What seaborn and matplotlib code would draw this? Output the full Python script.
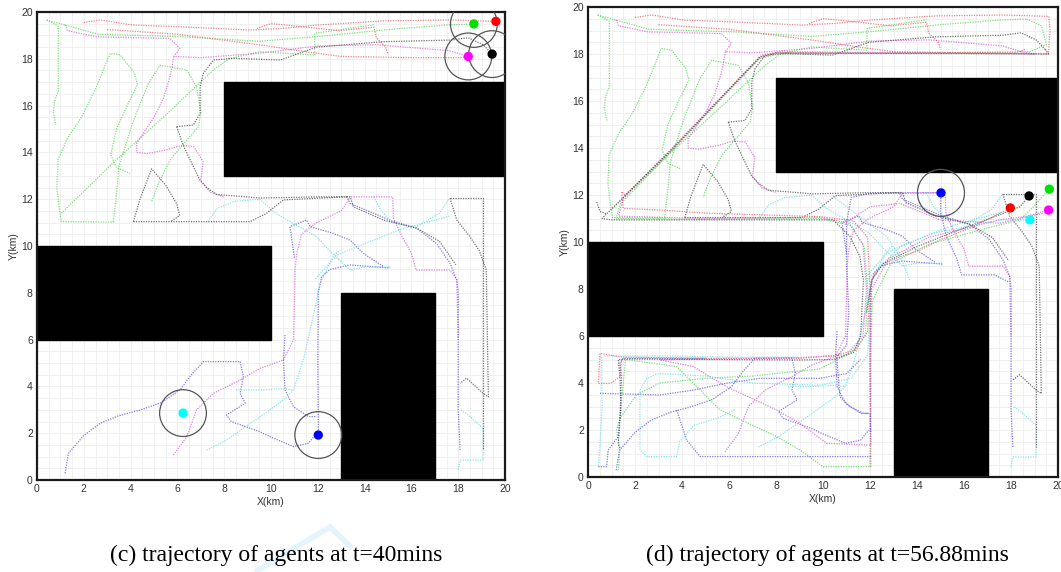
import matplotlib
matplotlib.use("Agg")
import matplotlib.pyplot as plt
import seaborn as sns
from matplotlib.patches import Rectangle, Circle
from matplotlib.lines import Line2D
from matplotlib.ticker import MultipleLocator

# ---------------- data ----------------
obstacles = [(8, 13, 12, 4), (0, 6, 10, 4), (13, 0, 4, 8)]   # x, y, w, h (km)

# trajectories up to t=40 min (shared by both panels)
g_a = [(0.41,19.66),(0.91,19.4),(0.91,16.6),(0.75,16.2),(0.7,15.7),(0.8,15.17)]
g_b = [(0.41,19.66),(2.6,19.05),(6.0,18.95),(9.5,18.75),(12.0,18.95),(15.0,19.25),(17.6,19.45),(18.67,19.49)]
g_c = [(3.3,11.02),(1.04,11.04),(0.95,11.6),(0.85,12.5),(0.9,13.7),(1.3,14.6),(1.9,15.5),(2.5,16.7),(3.12,18.23),(3.55,18.17),(4.15,17.4),(4.3,16.9),(3.9,16.1),(3.4,15.0),(3.15,13.9),(3.4,13.35),(3.97,13.1)]
g_d = [(3.26,11.04),(3.4,12.2),(3.5,13.4),(4.1,15.3),(4.76,16.95),(5.26,17.73),(6.4,17.52),(6.82,16.8),(7.0,15.7),(6.9,15.1),(6.3,14.4),(5.7,13.7),(5.2,12.7),(4.9,11.9)]
g_e = [(1.04,11.4),(3.3,13.6),(5.5,15.6),(7.54,17.52),(8.2,18.0),(9.5,18.3),(11.87,18.16),(11.87,19.09),(14.4,19.45)]

r_a = [(2.0,19.55),(2.7,19.66),(4.1,19.44),(6.1,19.37),(9.1,19.23),(10.5,19.3),(11.95,19.44),(14.8,19.62),(17.65,19.66),(19.61,19.6)]
r_b = [(3.0,19.25),(6.0,19.05),(9.5,18.6),(11.5,18.3),(13.0,18.1),(16.0,18.05),(18.2,18.05),(18.6,18.2)]
r_c = [(9.4,19.3),(10.0,19.5),(10.6,19.45),(12.9,19.2),(14.4,19.35),(14.5,18.9),(14.9,18.5),(15.0,18.2)]

m_a = [(1.2,19.45),(1.3,19.2),(2.55,18.94),(5.68,18.87),(6.1,18.45),(5.85,18.1),(7.0,18.05),(9.53,18.24),(12.0,18.55),(14.5,18.6),(17.6,18.35),(18.43,18.1)]
m_b = [(5.85,18.1),(5.7,17.3),(5.4,16.3),(5.0,15.5),(4.6,14.9),(4.26,14.4),(4.26,14.0),(4.7,13.95),(5.5,14.1),(6.2,14.3),(6.7,14.25),(7.1,13.6),(7.0,12.8),(7.4,12.3),(8.0,12.1)]
m_c = [(5.83,1.07),(6.4,1.85),(6.82,2.99),(7.53,3.7),(8.68,4.27),(9.53,4.77),(10.53,5.13),(10.96,6.0),(11.03,9.0),(11.1,9.68),(11.3,10.5),(11.95,11.0),(13.0,11.5),(13.4,12.1),(15.2,12.1),(15.23,11.2),(15.6,10.4),(16.0,9.7),(16.2,8.97),(17.65,8.97),(17.94,8.55),(18.0,6.0)]

b_a = [(1.2,0.29),(1.34,1.14),(2.0,1.9),(2.69,2.42),(3.5,2.75),(4.4,2.99),(5.3,3.3),(6.11,3.85),(6.6,4.5),(7.11,5.06),(8.68,5.06),(8.82,4.42),(8.68,3.7),(8.9,3.28),(8.1,2.78),(8.3,2.5),(9.53,2.06),(9.96,1.85),(10.96,1.43),(11.6,1.57),(11.95,2.0)]
b_b = [(12.02,1.92),(12.02,2.7),(12.0,5.0),(12.02,8.0),(12.17,8.69),(12.52,9.0),(13.38,9.19),(15.09,9.06)]
b_c = [(10.6,6.2),(10.53,5.13),(10.6,3.85),(10.96,3.13),(11.6,2.71),(11.95,2.71)]
b_d = [(18.08,1.28),(18.0,3.0),(18.0,6.0),(18.0,8.0),(17.94,8.55),(17.65,9.26),(17.08,10.1),(16.23,10.76),(15.09,11.1),(13.38,11.82),(13.24,12.11)]
b_e = [(11.0,9.5),(10.81,10.83),(11.52,11.11),(11.67,10.83),(12.66,10.54),(13.38,10.25),(13.95,9.68),(14.8,9.12)]

c_a = [(7.25,1.28),(8.1,1.71),(9.53,2.7),(10.5,3.4),(10.96,3.85),(11.38,5.13),(11.8,6.98),(12.09,8.4),(12.66,9.55),(12.95,9.83)]
c_b = [(18.0,0.43),(18.08,0.85),(19.07,0.85),(19.07,2.2),(18.4,2.8),(18.1,3.0)]
c_c = [(8.5,3.85),(9.53,3.85),(10.5,3.9),(10.96,3.85)]
c_d = [(9.5,12.0),(10.2,11.4),(11.95,10.4),(12.5,9.8),(13.38,8.97),(14.0,9.1),(15.1,9.1)]
c_e = [(14.4,12.1),(14.7,11.5),(15.2,11.0),(16.2,10.8),(17.2,11.4),(17.6,12.0)]
c_f = [(11.9,8.6),(12.8,9.6),(14.0,10.1),(15.5,10.7),(17.0,11.1),(17.7,11.3)]
c_g = [(7.3,11.04),(7.7,11.6),(8.4,11.9),(9.53,12.0)]

k_a = [(5.97,15.1),(6.68,15.17),(6.97,15.67),(6.97,16.81),(7.11,17.38),(7.54,17.95),(8.39,18.02),(10.4,17.95),(11.95,18.5),(14.8,18.73),(17.65,18.8),(18.43,18.9),(19.07,18.6),(19.45,18.2)]
k_b = [(5.97,15.1),(6.25,14.3),(6.68,13.4),(6.97,12.8),(7.25,12.5),(7.68,12.2),(8.96,12.1),(9.53,12.05),(12.0,12.1),(13.3,12.1)]
k_c = [(4.12,11.04),(9.1,11.04),(9.8,11.39),(10.53,11.97),(13.38,12.11),(13.52,11.68),(14.8,11.11),(16.23,10.76),(17.2,10.2),(17.9,9.2)]
k_d = [(4.12,11.04),(4.4,12.0),(4.9,13.3),(5.5,12.6),(5.97,11.8),(6.1,11.3),(5.7,11.04)]
k_e = [(17.65,12.04),(19.07,12.04),(19.07,9.5),(19.07,1.28)]
k_f = [(17.65,12.04),(17.94,11.11),(18.5,10.4),(18.9,9.8),(19.2,8.98),(19.29,3.55),(19.07,3.7),(18.36,4.35),(18.08,4.13)]

# additional trajectories between t=40 and t=56.88 min
dr_a = [(19.61,19.6),(19.66,19.0),(19.59,18.0),(17.0,18.05),(12.0,18.04),(8.03,18.06),(7.32,17.9),(3.49,13.9),(1.6,12.0),(1.43,12.14),(1.5,11.43),(3.06,11.36),(5.19,11.22),(9.87,11.08),(11.3,10.9),(11.9,10.2),(12.0,8.0),(11.9,6.2),(11.4,5.4),(10.4,5.15),(9.0,5.05),(5.0,5.05),(1.5,5.1),(0.51,5.26),(0.44,3.98),(0.94,3.98),(1.36,4.27),(1.43,5.0)]
dr_b = [(12.0,0.44),(12.04,4.0),(12.0,7.0),(12.07,8.38),(12.43,8.95),(13.28,9.37),(14.13,9.66),(14.98,10.09),(16.4,10.65),(17.97,11.45)]
dk_a = [(19.45,18.2),(19.6,18.0),(16.0,18.02),(11.0,18.03),(8.03,18.04),(7.3,17.85),(3.5,13.85),(0.79,11.2),(0.6,11.0),(1.0,10.94),(5.0,10.94),(9.87,10.94),(10.44,10.94),(11.15,10.23),(11.57,9.38),(11.72,8.38),(11.6,6.0),(11.3,5.3),(10.44,5.0),(9.0,4.98),(5.0,5.0),(1.8,5.02),(1.29,5.0),(1.36,4.3),(1.4,3.0),(1.29,1.4),(1.36,1.2)]
dk_b = [(11.86,7.0),(12.07,8.38),(12.57,9.09),(13.99,9.8),(15.41,10.37),(16.55,10.8),(17.67,11.22),(18.38,11.5),(18.77,11.96)]
dk_c = [(0.37,11.7),(0.51,11.3),(0.79,11.2)]
dg_a = [(18.67,19.49),(19.3,19.2),(19.5,18.4),(18.8,18.1),(14.0,18.05),(8.1,18.0),(7.3,17.8),(3.5,13.8),(1.36,11.6),(1.2,11.0),(5.0,10.97),(9.9,11.0),(11.2,10.7),(11.75,9.8),(11.9,8.0),(11.8,6.0),(11.2,5.3),(9.87,4.6),(7.0,4.3),(5.0,4.2),(3.06,4.0),(2.07,3.5),(1.36,2.5),(1.22,2.0),(1.36,1.2),(1.29,0.3)]
dg_b = [(1.36,2.5),(1.5,4.0),(1.6,5.0),(3.77,4.7),(5.62,2.85),(8.03,1.72),(9.02,1.15),(10.0,0.44),(12.04,0.44),(12.0,4.0),(12.1,7.5),(12.9,9.1),(14.5,9.9),(17.0,10.6),(18.38,10.94),(18.95,11.5),(19.63,12.25)]
dm_a = [(18.43,18.1),(19.0,18.0),(14.0,18.05),(8.2,18.1),(7.4,17.95),(3.6,14.0),(1.5,11.9),(1.3,11.1),(5.0,11.0),(9.9,11.05),(11.1,10.8),(11.7,9.9),(11.85,8.0),(11.7,6.0),(11.0,5.2),(9.0,5.08),(3.06,4.98),(4.48,4.7),(5.9,3.84),(8.03,2.85),(9.02,2.28),(10.16,1.43),(12.04,1.36),(12.0,5.0),(12.07,8.0),(12.8,9.3),(14.5,10.2),(17.5,10.94),(18.7,11.1),(19.6,11.36)]
dm_b = [(11.15,10.94),(12.0,11.5),(13.28,11.64),(14.98,10.94),(17.53,10.8),(19.63,11.29)]
db_a = [(12.02,1.92),(12.0,2.7),(11.72,2.71),(11.15,2.99),(10.72,3.42),(10.58,5.12),(11.0,5.6),(11.1,7.0),(11.0,9.0),(11.0,10.8),(11.2,11.9),(12.0,12.07),(15.02,12.09)]
db_b = [(0.44,0.44),(0.79,0.44),(0.86,1.15),(1.29,1.72),(1.36,2.57),(1.43,4.3),(1.36,4.84),(1.5,5.05),(5.0,5.05)]
db_c = [(0.51,3.56),(3.06,3.49),(4.48,3.7),(5.9,3.99),(7.32,4.2),(9.87,4.2),(11.0,4.4),(11.6,5.0)]
db_d = [(3.77,2.85),(4.2,1.57),(4.77,0.87),(9.87,0.87),(12.04,0.87)]
db_e = [(15.02,12.09),(15.0,11.3),(15.25,10.23),(15.69,9.3),(15.9,8.6),(17.3,8.6),(17.9,8.3)]
dc_a = [(6.24,2.86),(5.5,2.5),(4.5,2.2),(3.9,1.5),(3.77,0.87),(2.5,0.87),(2.21,1.15),(2.21,3.7),(2.5,4.2),(3.0,4.4),(5.0,4.3),(7.0,4.0),(9.87,3.9),(11.2,4.2),(11.9,5.2),(12.0,7.0),(11.86,8.38),(13.28,9.8),(14.69,10.37),(17.53,10.94),(18.8,10.94)]
dc_b = [(0.58,5.1),(0.6,3.0),(0.5,1.2),(0.44,0.44)]
dc_c = [(0.7,5.15),(3.5,5.15),(6.0,5.1),(9.0,5.1)]
dc_d = [(10.44,11.93),(11.57,11.08),(12.71,10.23),(13.28,9.38),(13.7,8.38)]

hist_green = [g_a, g_b, g_c, g_d, g_e]
hist_red = [r_a, r_b, r_c]
hist_magenta = [m_a, m_b, m_c]
hist_blue = [b_a, b_b, b_c, b_d, b_e]
hist_cyan = [c_a, c_b, c_c, c_d, c_e, c_f, c_g]
hist_black = [k_a, k_b, k_c, k_d, k_e, k_f]

extra_red = [dr_a, dr_b]
extra_black = [dk_a, dk_b, dk_c]
extra_green = [dg_a, dg_b]
extra_magenta = [dm_a, dm_b]
extra_blue = [db_a, db_b, db_c, db_d, db_e]
extra_cyan = [dc_a, dc_b, dc_c, dc_d]

agent_names = ["green", "red", "magenta", "black", "cyan", "blue"]
agent_c_x = [18.67, 19.61, 18.43, 19.45, 6.24, 12.02]
agent_c_y = [19.49, 19.60, 18.10, 18.20, 2.86, 1.92]
agent_d_x = [19.63, 17.97, 19.60, 18.77, 18.80, 15.02]
agent_d_y = [12.25, 11.45, 11.36, 11.96, 10.94, 12.09]
circled_c = ["green", "magenta", "black", "cyan", "blue"]
circled_d = ["blue"]
sense_radius = 1.0

captions = ["(c) trajectory of agents at t=40mins", "(d) trajectory of agents at t=56.88mins"]

# ---------------- styling ----------------
line_colors = {"green": "#4fd64f", "red": "#e65a66", "magenta": "#d65ad6",
               "black": "#444444", "cyan": "#5fdde8", "blue": "#5a50d6"}
dot_colors = {"green": "#00e000", "red": "#ff0000", "magenta": "#ff00ff",
              "black": "#000000", "cyan": "#00ffff", "blue": "#0000ff"}

sns.set_theme(style="white")
plt.rcParams["font.family"] = ["Liberation Sans", "DejaVu Sans"]

fig = plt.figure(figsize=(10.61, 5.72), dpi=100)
ax_c = fig.add_axes([37/1061, 1-480/572, 468/1061, 468/572])
ax_d = fig.add_axes([588/1061, 1-477/572, 470/1061, 470/572])


def draw_path(ax, pts, color):
    xs = [p[0] for p in pts]
    ys = [p[1] for p in pts]
    sns.lineplot(x=xs, y=ys, sort=False, estimator=None, color=color,
                 lw=0.9, alpha=0.75, linestyle=(0, (1, 1)), ax=ax, legend=False)


def setup(ax):
    ax.set_xlim(0, 20)
    ax.set_ylim(0, 20)
    ax.set_axisbelow(True)
    ax.xaxis.set_major_locator(MultipleLocator(2))
    ax.yaxis.set_major_locator(MultipleLocator(2))
    ax.xaxis.set_minor_locator(MultipleLocator(0.5))
    ax.yaxis.set_minor_locator(MultipleLocator(0.5))
    ax.grid(which="both", color="#eeeeee", lw=0.6)
    ax.tick_params(which="major", direction="in", length=3.5, width=0.8,
                   labelsize=7.5, labelcolor="#333333", color="#222222", pad=3)
    ax.tick_params(which="minor", direction="in", length=2, width=0.6, color="#222222")
    for s in ax.spines.values():
        s.set_color("#1a1a1a")
        s.set_linewidth(1.6)
    ax.set_xlabel("X(km)", fontsize=7.5, color="#333333", labelpad=2)
    ax.set_ylabel("Y(km)", fontsize=7.5, color="#333333", labelpad=2)
    for (x, y, w, h) in obstacles:
        ax.add_patch(Rectangle((x, y), w, h, facecolor="black", edgecolor="black", zorder=2))


groups_hist = [("green", hist_green), ("red", hist_red), ("magenta", hist_magenta),
               ("blue", hist_blue), ("cyan", hist_cyan), ("black", hist_black)]
groups_extra = [("green", extra_green), ("red", extra_red), ("magenta", extra_magenta),
                ("blue", extra_blue), ("cyan", extra_cyan), ("black", extra_black)]

for ax, groups, ax_x, ax_y, circled in [
        (ax_c, groups_hist, agent_c_x, agent_c_y, circled_c),
        (ax_d, groups_hist + groups_extra, agent_d_x, agent_d_y, circled_d)]:
    setup(ax)
    for name, paths in groups:
        for p in paths:
            draw_path(ax, p, line_colors[name])
    sns.scatterplot(x=ax_x, y=ax_y, hue=agent_names, palette=dot_colors, s=45,
                    edgecolor="none", legend=False, ax=ax, zorder=6)
    for n, x, y in zip(agent_names, ax_x, ax_y):
        if n in circled:
            ax.add_patch(Circle((x, y), sense_radius, fill=False, edgecolor="#555555",
                                lw=0.9, zorder=5))

# faint watermark stroke behind the first caption
fig.add_artist(Line2D([255/1061, 330/1061, 352/1061], [1-572/572, 1-527/572, 1-548/572],
                      transform=fig.transFigure, color="#e4f4fd", lw=4, zorder=0,
                      solid_capstyle="butt", solid_joinstyle="miter"))

fig.text(276/1061, 0.019, captions[0], family="Liberation Serif", fontsize=17,
         ha="center", va="baseline", color="black", zorder=3)
fig.text(827/1061, 0.019, captions[1], family="Liberation Serif", fontsize=17,
         ha="center", va="baseline", color="black", zorder=3)

fig.savefig("out.png", dpi=100)
